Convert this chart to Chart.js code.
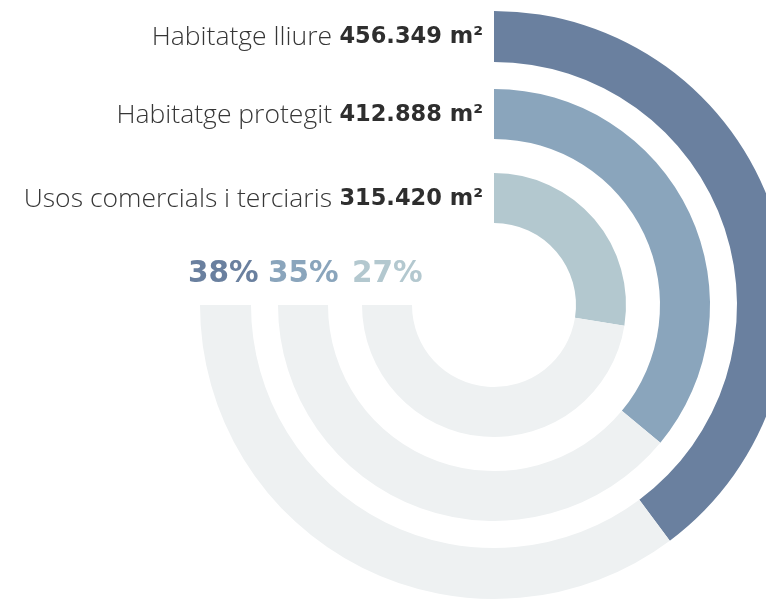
<!DOCTYPE html>
<html>
<head>
<meta charset="utf-8">
<script src="https://cdn.jsdelivr.net/npm/chart.js@4"></script>
<style>
  html, body { margin: 0; padding: 0; background: #fff; overflow: hidden; width: 766px; height: 599px; }
  #radial { position: absolute; left: 0; top: 0; }
</style>
</head>
<body>
<canvas id="radial" width="988" height="610"></canvas>
<script>
const categories = ['Habitatge lliure', 'Habitatge protegit', 'Usos comercials i terciaris'];
const areas = [456349, 412888, 315420];
const areaLabels = ['456.349 m²', '412.888 m²', '315.420 m²'];
const shares = ['38%', '35%', '27%'];
const scaleMax = 860000; // valor que omple els 270 graus

const colors = ['#6a809f', '#8aa5bc', '#b3c8cf'];
const track = '#eef1f2';
const ringWeights = [51, 50, 50];
const gapWeights = [27, 34];

const datasets = [];
areas.forEach((v, i) => {
  datasets.push({
    label: categories[i],
    data: [v, scaleMax - v],
    backgroundColor: [colors[i], track],
    borderWidth: 0,
    circumference: 270,
    rotation: 0,
    weight: ringWeights[i]
  });
  if (i < gapWeights.length) {
    datasets.push({ data: [1], backgroundColor: ['rgba(0,0,0,0)'], borderWidth: 0, weight: gapWeights[i], circumference: 270 });
  }
});

const labelsPlugin = {
  id: 'labels',
  afterDraw(chart) {
    const ctx = chart.ctx;
    ctx.save();
    ctx.textBaseline = 'middle';
    ctx.textAlign = 'right';
    categories.forEach((name, i) => {
      const arc = chart.getDatasetMeta(i * 2).data[0];
      const y = arc.y - (arc.innerRadius + arc.outerRadius) / 2 + 1;
      ctx.font = 'bold 22.5px "DejaVu Sans"';
      ctx.fillStyle = '#2e2e2e';
      ctx.fillText(areaLabels[i], arc.x - 11, y);
      ctx.font = '350 26.5px "Open Sans"';
      ctx.fillStyle = '#363636';
      ctx.fillText(name, 332, y);
    });
    // percentatges
    ctx.textAlign = 'left';
    ctx.textBaseline = 'alphabetic';
    ctx.font = 'bold 29.5px "DejaVu Sans"';
    const px = [188, 268, 352];
    shares.forEach((s, i) => {
      ctx.fillStyle = colors[i];
      ctx.fillText(s, px[i], 282);
    });
    ctx.restore();
  }
};

new Chart(document.getElementById('radial'), {
  type: 'doughnut',
  data: { labels: ['valor', 'resta'], datasets: datasets },
  options: {
    responsive: false,
    animation: false,
    devicePixelRatio: 1,
    cutout: 82,
    layout: { padding: 11 },
    plugins: { legend: { display: false }, tooltip: { enabled: false } },
    events: []
  },
  plugins: [labelsPlugin]
});
</script>
</body>
</html>
